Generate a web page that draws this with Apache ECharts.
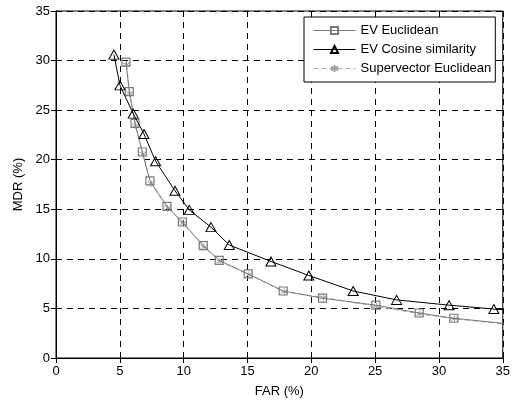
<!DOCTYPE html>
<html>
<head>
<meta charset="utf-8">
<script src="https://cdn.jsdelivr.net/npm/echarts@6/dist/echarts.min.js"></script>
<style>html,body{margin:0;padding:0;background:#fff;}#c{width:513px;height:403px;}</style>
</head>
<body>
<div id="c"></div>
<script>
var xTicks = [0, 5, 10, 15, 20, 25, 30, 35];
var yTicks = [0, 5, 10, 15, 20, 25, 30, 35];
var seriesNames = ['EV Euclidean', 'EV Cosine similarity', 'Supervector Euclidean'];

var evEuclideanFar = [5.48, 5.74, 6.19, 6.76, 7.36, 8.69, 9.9, 11.54, 12.79, 15.06, 17.8, 20.88, 25.06, 28.45, 31.17, 38];
var evEuclideanMdr = [29.85, 26.87, 23.66, 20.78, 17.86, 15.3, 13.72, 11.33, 9.84, 8.48, 6.76, 6.03, 5.33, 4.54, 4.01, 3.1];

var evCosineFar = [4.54, 5.01, 6.05, 6.89, 7.8, 9.32, 10.44, 12.14, 13.57, 16.84, 19.81, 23.28, 26.68, 30.8, 34.3, 38];
var evCosineMdr = [30.6, 27.5, 24.65, 22.6, 19.85, 16.87, 14.94, 13.2, 11.4, 9.74, 8.32, 6.76, 5.86, 5.33, 4.94, 4.53];

var superFar = [5.52, 5.78, 6.24, 6.8, 7.45, 8.75, 9.95, 11.6, 12.85, 15.12, 17.88, 20.95, 25.1, 28.5, 31.22, 38];
var superMdr = [29.6, 26.7, 23.45, 20.6, 17.6, 15.15, 13.6, 11.2, 9.75, 8.4, 6.68, 6.1, 5.2, 4.45, 3.95, 3.05];

function pairs(xs, ys) { return xs.map(function (x, i) { return [x, ys[i]]; }); }

var asterisk = 'path://M0,-10L0,10M-8.66,-5L8.66,5M-8.66,5L8.66,-5';
var font = 'Liberation Sans, Arial, sans-serif';

var chart = echarts.init(document.getElementById('c'), null, {renderer: 'canvas'});
chart.setOption({
  animation: false,
  backgroundColor: '#fff',
  grid: {left: 56, right: 10, top: 11, bottom: 40, show: true, borderColor: '#000', borderWidth: 1},
  legend: {
    orient: 'vertical', left: 304, top: 17,
    padding: [7, 4, 7, 9], itemWidth: 42, itemHeight: 9, itemGap: 6,
    backgroundColor: '#fff', borderColor: '#000', borderWidth: 1, borderRadius: 0,
    lineStyle: {width: 1},
    textStyle: {fontFamily: font, fontSize: 13, color: '#000'},
    data: seriesNames
  },
  xAxis: [{
    type: 'value', min: 0, max: 35, interval: 5,
    name: 'FAR (%)', nameLocation: 'middle', nameGap: 27,
    nameTextStyle: {fontFamily: font, fontSize: 13, color: '#000'},
    axisLine: {show: true, lineStyle: {color: '#000', width: 1}},
    axisTick: {show: true, inside: true, length: 5, lineStyle: {color: '#000'}},
    axisLabel: {fontFamily: font, fontSize: 13, color: '#000', margin: 7,
      formatter: function (v) { return xTicks.indexOf(v) >= 0 ? String(v) : ''; }},
    splitLine: {show: true, lineStyle: {color: '#000', type: [6, 5], width: 1}}
  }, {
    type: 'value', min: 0, max: 35, interval: 5, position: 'top',
    axisLine: {show: true, lineStyle: {color: '#000'}},
    axisTick: {show: true, inside: true, length: 5, lineStyle: {color: '#000'}},
    axisLabel: {show: false}, splitLine: {show: false}
  }],
  yAxis: [{
    type: 'value', min: 0, max: 35, interval: 5,
    name: 'MDR (%)', nameLocation: 'middle', nameGap: 30, nameRotate: 90,
    nameTextStyle: {fontFamily: font, fontSize: 13, color: '#000'},
    axisLine: {show: true, lineStyle: {color: '#000', width: 1}},
    axisTick: {show: true, inside: true, length: 5, lineStyle: {color: '#000'}},
    axisLabel: {fontFamily: font, fontSize: 13, color: '#000', margin: 6,
      formatter: function (v) { return yTicks.indexOf(v) >= 0 ? String(v) : ''; }},
    splitLine: {show: true, lineStyle: {color: '#000', type: [6, 5], width: 1}}
  }, {
    type: 'value', min: 0, max: 35, interval: 5, position: 'right',
    axisLine: {show: true, lineStyle: {color: '#000'}},
    axisTick: {show: true, inside: true, length: 5, lineStyle: {color: '#000'}},
    axisLabel: {show: false}, splitLine: {show: false}
  }],
  series: [{
    name: seriesNames[0], type: 'line', clip: true,
    data: pairs(evEuclideanFar, evEuclideanMdr),
    symbol: 'rect', symbolSize: 8,
    lineStyle: {color: '#7a7a7a', width: 1},
    itemStyle: {color: 'rgba(255,255,255,0)', borderColor: '#7a7a7a', borderWidth: 1.2},
    z: 3
  }, {
    name: seriesNames[1], type: 'line', clip: true,
    data: pairs(evCosineFar, evCosineMdr),
    symbol: 'triangle', symbolSize: [10, 9],
    lineStyle: {color: '#000', width: 1},
    itemStyle: {color: 'rgba(255,255,255,0)', borderColor: '#000', borderWidth: 1},
    z: 4
  }, {
    name: seriesNames[2], type: 'line', clip: true,
    data: pairs(superFar, superMdr),
    symbol: asterisk, symbolSize: 7,
    lineStyle: {color: '#a8a8a8', width: 1, type: [5, 3]},
    itemStyle: {color: 'rgba(255,255,255,0)', borderColor: '#a0a0a0', borderWidth: 1},
    z: 2
  }]
});
</script>
</body>
</html>
